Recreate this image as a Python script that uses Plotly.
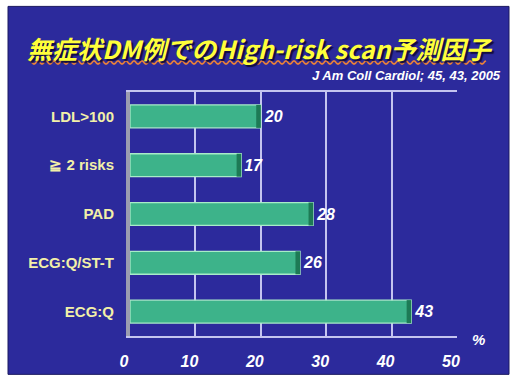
import numpy as np
import plotly.graph_objects as go

categories = ["LDL>100", "≧ 2 risks", "PAD", "ECG:Q/ST-T", "ECG:Q"]
values = [20, 17, 28, 26, 43]
tick_vals = [0, 10, 20, 30, 40, 50]
tick_text = ["0", "10", "20", "30", "40", "50"]
title_text = "無症状DM例でのHigh-risk scan予測因子"
source_text = "J Am Coll Cardiol; 45, 43, 2005"
unit_text = "%"

W, H = 513, 382
L, R, T, B = 130, 56, 92, 42
PW, PH = W - L - R, H - T - B

def px(x):
    return (x - L) / PW

def py(y):
    return (H - B - y) / PH

BG = "#2c2a9c"
LAT = "Liberation Sans"

fig = go.Figure()
fig.add_trace(go.Bar(
    y=categories, x=values, orientation="h", width=0.47,
    marker=dict(color="#3db38a", line=dict(color="#a8ecc8", width=1.3)),
    text=[str(v) for v in values], textposition="outside",
    textfont=dict(family=LAT, size=16, color="white", weight="bold", style="italic"),
    cliponaxis=False, hoverinfo="skip",
))
# darker end face of each bar
end_w = 0.7
fig.add_trace(go.Bar(
    y=categories, x=[end_w] * len(values), base=[v - end_w for v in values],
    orientation="h", width=0.47,
    marker=dict(color="#1d7a55", line=dict(width=0)),
    hoverinfo="skip",
))

shapes = []
# slide background
shapes.append(dict(type="rect", xref="paper", yref="paper", layer="below",
                   x0=px(8), x1=px(509), y0=py(379), y1=py(5),
                   fillcolor=BG, line=dict(color="#1a1860", width=1)))
# wavy underline under title
xs = np.linspace(30, 486, 400)
ys = 62 + 1.6 * np.sin(xs / 8.0 * 2 * np.pi)
path = "M " + " L ".join(f"{px(a):.5f},{py(b):.5f}" for a, b in zip(xs, ys))
shapes.append(dict(type="path", xref="paper", yref="paper", path=path,
                   line=dict(color="#e8803a", width=1.6)))

fig.update_layout(
    width=W, height=H,
    margin=dict(l=L, r=R, t=T, b=B),
    paper_bgcolor="white", plot_bgcolor="rgba(0,0,0,0)",
    barmode="overlay", showlegend=False,
    shapes=shapes,
    xaxis=dict(range=[0, 50], tickvals=tick_vals, ticktext=tick_text,
               showgrid=True, gridcolor="#c4c4f0", gridwidth=1.5,
               showline=True, linecolor="#c4c4f0", linewidth=1.5, mirror=True,
               zeroline=False, ticks="", ticklabelstandoff=10, ticklabelshift=-6,
               tickfont=dict(family=LAT, size=16, color="white", weight="bold", style="italic")),
    yaxis=dict(autorange="reversed", showgrid=False, zeroline=False,
               showline=True, linecolor="#9c9cb0", linewidth=4,
               ticks="", ticklabelstandoff=9,
               tickfont=dict(family=LAT, size=15, color="#f2f0a8", weight="bold")),
    annotations=[
        dict(text=title_text, xref="paper", yref="paper", x=px(260), y=py(47),
             xanchor="center", yanchor="middle", showarrow=False,
             font=dict(family="Noto Sans CJK JP", size=25, color="#ffff3a",
                       weight="bold", style="italic", shadow="2px 2px 1px #120c40")),
        dict(text=source_text, xref="paper", yref="paper", x=px(503), y=py(75),
             xanchor="right", yanchor="middle", showarrow=False,
             font=dict(family=LAT, size=13, color="white", weight="bold", style="italic")),
        dict(text=unit_text, xref="paper", yref="paper", x=px(478), y=py(344),
             xanchor="center", yanchor="middle", showarrow=False,
             font=dict(family=LAT, size=15, color="white", weight="bold", style="italic")),
    ],
)

fig.write_html("out.html")
